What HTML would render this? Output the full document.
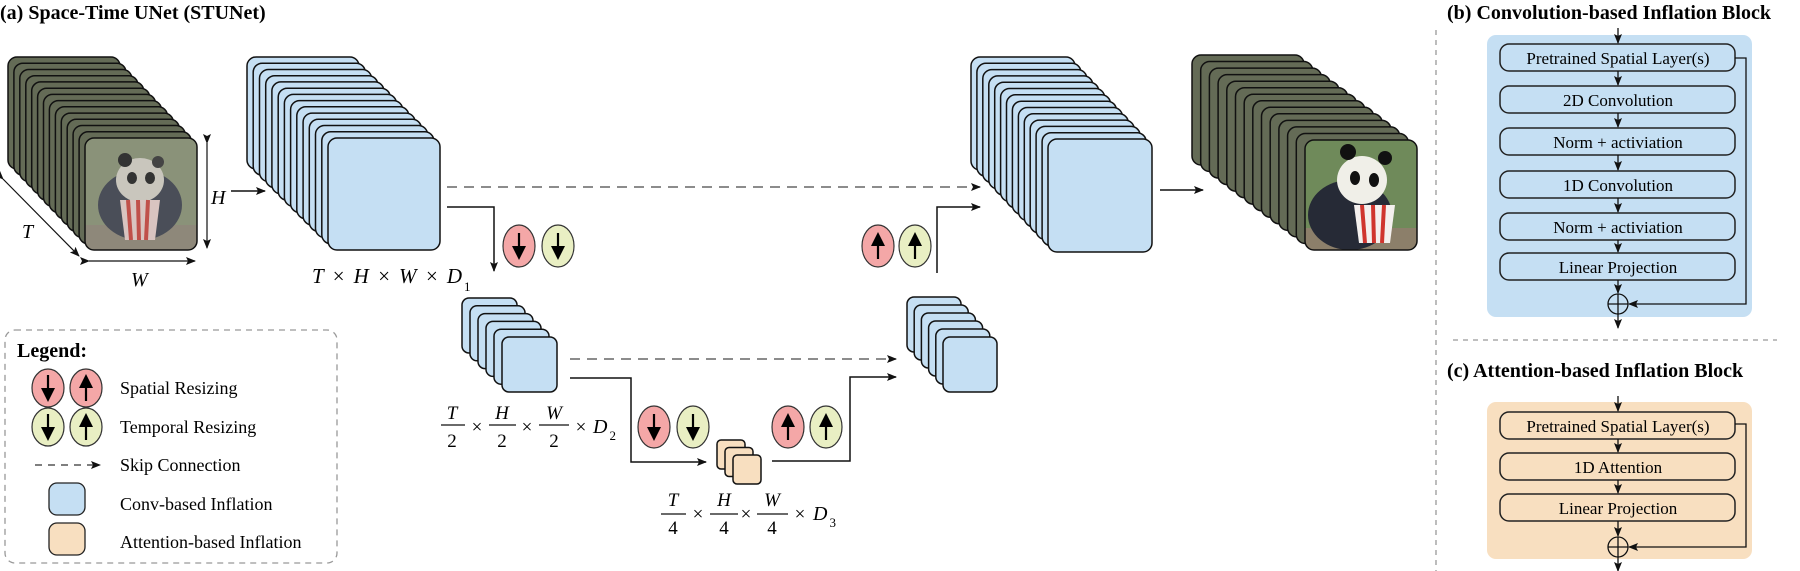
<!DOCTYPE html>
<html><head><meta charset="utf-8"><style>
html,body{margin:0;padding:0;background:#fff;}
svg{display:block;}
.t{font-family:"Liberation Serif",serif;}
.m{font-family:"Liberation Serif",serif;font-style:italic;}
.b rect{fill:#c5dff3;stroke:#111;stroke-width:1.5;}
.o rect{fill:#f8dfc0;stroke:#111;stroke-width:1.5;}
.v rect{fill:#646b56;stroke:#111;stroke-width:1.5;}
.row{fill:none;stroke:#222;stroke-width:1.5;}
</style></head><body>
<svg width="1800" height="571" viewBox="0 0 1800 571" xmlns="http://www.w3.org/2000/svg">
<defs>
<marker id="ah" markerWidth="10" markerHeight="8" refX="9" refY="4" orient="auto" markerUnits="userSpaceOnUse"><path d="M0,0 L10,4 L0,8 L2,4 z" fill="#111"/></marker>
<clipPath id="c1"><rect x="85" y="138" width="112" height="112" rx="9"/></clipPath>
<clipPath id="c2"><rect x="1305" y="140" width="112" height="110" rx="9"/></clipPath>
<g id="dn"><path d="M0,-13 V2" stroke="#000" stroke-width="2.2"/><path d="M-7,0 L7,0 L0,14 z" fill="#000"/></g>
<g id="up"><path d="M0,13 V-2" stroke="#000" stroke-width="2.2"/><path d="M-7,0 L7,0 L0,-14 z" fill="#000"/></g>
</defs>

<text x="0" y="19" class="t" font-size="20" font-weight="bold">(a) Space-Time UNet (STUNet)</text>

<g class="v">
<rect x="8" y="57" width="112" height="112" rx="9"/><rect x="13.9" y="63.2" width="112" height="112" rx="9"/><rect x="19.8" y="69.5" width="112" height="112" rx="9"/><rect x="25.8" y="75.7" width="112" height="112" rx="9"/><rect x="31.7" y="81.9" width="112" height="112" rx="9"/><rect x="37.6" y="88.2" width="112" height="112" rx="9"/><rect x="43.5" y="94.4" width="112" height="112" rx="9"/><rect x="49.4" y="100.6" width="112" height="112" rx="9"/><rect x="55.4" y="106.8" width="112" height="112" rx="9"/><rect x="61.3" y="113.1" width="112" height="112" rx="9"/><rect x="67.2" y="119.3" width="112" height="112" rx="9"/><rect x="73.1" y="125.5" width="112" height="112" rx="9"/><rect x="79.1" y="131.8" width="112" height="112" rx="9"/>
</g>
<g clip-path="url(#c1)">
<rect x="85" y="138" width="112" height="112" fill="#8a9279"/>
<rect x="85" y="225" width="112" height="25" fill="#8e887a"/>
<ellipse cx="140" cy="205" rx="42" ry="35" fill="#4a4e58"/>
<ellipse cx="140" cy="180" rx="24" ry="22" fill="#c9c6bd"/>
<circle cx="125" cy="160" r="7" fill="#333"/><circle cx="158" cy="162" r="6" fill="#444"/>
<ellipse cx="132" cy="178" rx="5" ry="6" fill="#333"/><ellipse cx="150" cy="178" rx="5" ry="6" fill="#333"/>
<path d="M120,200 L160,200 L155,240 L125,240 z" fill="#d9c4c0"/>
<path d="M128,200 L131,240 M138,200 L139,240 M148,200 L146,240" stroke="#c0504a" stroke-width="4"/>
</g>
<rect x="85" y="138" width="112" height="112" rx="9" fill="none" stroke="#111" stroke-width="1.5"/>
<path d="M207,143 V248" stroke="#111" stroke-width="1.2" marker-start="url(#ah)" marker-end="url(#ah)"/>
<text x="211" y="204" class="m" font-size="20">H</text>
<path d="M3,179 L79,256" stroke="#111" stroke-width="1.2" marker-start="url(#ah)" marker-end="url(#ah)"/>
<text x="22" y="238" class="m" font-size="20">T</text>
<path d="M89,261 H195" stroke="#111" stroke-width="1.2" marker-start="url(#ah)" marker-end="url(#ah)"/>
<text x="131" y="286" class="m" font-size="20">W</text>
<path d="M231,191 H265" stroke="#111" stroke-width="1.5" marker-end="url(#ah)"/>

<g class="b">
<rect x="247" y="57" width="112" height="112" rx="9"/><rect x="253.2" y="63.2" width="112" height="112" rx="9"/><rect x="259.5" y="69.5" width="112" height="112" rx="9"/><rect x="265.7" y="75.7" width="112" height="112" rx="9"/><rect x="271.9" y="81.9" width="112" height="112" rx="9"/><rect x="278.2" y="88.2" width="112" height="112" rx="9"/><rect x="284.4" y="94.4" width="112" height="112" rx="9"/><rect x="290.6" y="100.6" width="112" height="112" rx="9"/><rect x="296.8" y="106.8" width="112" height="112" rx="9"/><rect x="303.1" y="113.1" width="112" height="112" rx="9"/><rect x="309.3" y="119.3" width="112" height="112" rx="9"/><rect x="315.5" y="125.5" width="112" height="112" rx="9"/><rect x="321.8" y="131.8" width="112" height="112" rx="9"/><rect x="328" y="138" width="112" height="112" rx="9"/>
</g>
<text x="312" y="283" class="m" font-size="21" textLength="150" lengthAdjust="spacing">T × H × W × D</text>
<text x="464" y="291" class="t" font-size="13">1</text>

<path d="M447,187 H980" stroke="#666" stroke-width="1.5" stroke-dasharray="10,7" fill="none" marker-end="url(#ah)"/>
<path d="M570,359 H896" stroke="#666" stroke-width="1.5" stroke-dasharray="10,7" fill="none" marker-end="url(#ah)"/>

<path d="M447,207 H494 V271" stroke="#111" stroke-width="1.5" fill="none" marker-end="url(#ah)"/>
<ellipse cx="519" cy="246" rx="16" ry="21" fill="#f4a7a7" stroke="#333" stroke-width="1.2"/><use href="#dn" x="519" y="246"/>
<ellipse cx="558" cy="246" rx="16" ry="21" fill="#e9efc3" stroke="#333" stroke-width="1.2"/><use href="#dn" x="558" y="246"/>

<g class="b">
<rect x="462" y="298" width="55" height="55" rx="7"/><rect x="470" y="305.8" width="55" height="55" rx="7"/><rect x="478" y="313.6" width="55" height="55" rx="7"/><rect x="486" y="321.4" width="55" height="55" rx="7"/><rect x="494" y="329.2" width="55" height="55" rx="7"/><rect x="502" y="337" width="55" height="55" rx="7"/>
</g>
<g class="m" font-size="19" text-anchor="middle">
<text x="452" y="419">T</text><text x="502" y="419">H</text><text x="554" y="419">W</text>
</g>
<g class="t" font-size="19" text-anchor="middle">
<text x="452" y="447">2</text><text x="502" y="447">2</text><text x="554" y="447">2</text>
<text x="477" y="433">×</text><text x="527" y="433">×</text><text x="581" y="433">×</text>
</g>
<path d="M441,425 H465 M489,425 H516 M539,425 H569" stroke="#111" stroke-width="1.2"/>
<text x="593" y="433" class="m" font-size="20">D<tspan class="t" font-style="normal" font-size="13" dy="7" dx="2">2</tspan></text>

<path d="M570,378 H631 V462 H706" stroke="#111" stroke-width="1.5" fill="none" marker-end="url(#ah)"/>
<ellipse cx="654" cy="427" rx="16" ry="21" fill="#f4a7a7" stroke="#333" stroke-width="1.2"/><use href="#dn" x="654" y="427"/>
<ellipse cx="693" cy="427" rx="16" ry="21" fill="#e9efc3" stroke="#333" stroke-width="1.2"/><use href="#dn" x="693" y="427"/>
<ellipse cx="788" cy="427" rx="16" ry="21" fill="#f4a7a7" stroke="#333" stroke-width="1.2"/><use href="#up" x="788" y="427"/>
<ellipse cx="826" cy="427" rx="16" ry="21" fill="#e9efc3" stroke="#333" stroke-width="1.2"/><use href="#up" x="826" y="427"/>

<g class="o">
<rect x="717" y="440" width="28" height="29" rx="4"/><rect x="725" y="447.5" width="28" height="29" rx="4"/><rect x="733" y="455" width="28" height="29" rx="4"/>
</g>
<g class="m" font-size="19" text-anchor="middle">
<text x="673" y="506">T</text><text x="724" y="506">H</text><text x="772" y="506">W</text>
</g>
<g class="t" font-size="19" text-anchor="middle">
<text x="673" y="534">4</text><text x="724" y="534">4</text><text x="772" y="534">4</text>
<text x="698" y="520">×</text><text x="746" y="520">×</text><text x="800" y="520">×</text>
</g>
<path d="M661,514 H686 M710,514 H738 M757,514 H788" stroke="#111" stroke-width="1.2"/>
<text x="813" y="520" class="m" font-size="20">D<tspan class="t" font-style="normal" font-size="13" dy="7" dx="2">3</tspan></text>

<path d="M772,461 H850 V377 H896" stroke="#111" stroke-width="1.5" fill="none" marker-end="url(#ah)"/>

<g class="b">
<rect x="907" y="297" width="54" height="55" rx="7"/><rect x="914.2" y="305" width="54" height="55" rx="7"/><rect x="921.4" y="313" width="54" height="55" rx="7"/><rect x="928.6" y="321" width="54" height="55" rx="7"/><rect x="935.8" y="329" width="54" height="55" rx="7"/><rect x="943" y="337" width="54" height="55" rx="7"/>
</g>
<path d="M937,273 V207 H980" stroke="#111" stroke-width="1.5" fill="none" marker-end="url(#ah)"/>
<ellipse cx="878" cy="246" rx="16" ry="21" fill="#f4a7a7" stroke="#333" stroke-width="1.2"/><use href="#up" x="878" y="246"/>
<ellipse cx="915" cy="246" rx="16" ry="21" fill="#e9efc3" stroke="#333" stroke-width="1.2"/><use href="#up" x="915" y="246"/>

<g class="b">
<rect x="971" y="57" width="104" height="113" rx="9"/><rect x="976.9" y="63.3" width="104" height="113" rx="9"/><rect x="982.8" y="69.6" width="104" height="113" rx="9"/><rect x="988.8" y="75.9" width="104" height="113" rx="9"/><rect x="994.7" y="82.2" width="104" height="113" rx="9"/><rect x="1000.6" y="88.5" width="104" height="113" rx="9"/><rect x="1006.5" y="94.8" width="104" height="113" rx="9"/><rect x="1012.4" y="101.2" width="104" height="113" rx="9"/><rect x="1018.4" y="107.5" width="104" height="113" rx="9"/><rect x="1024.3" y="113.8" width="104" height="113" rx="9"/><rect x="1030.2" y="120.1" width="104" height="113" rx="9"/><rect x="1036.1" y="126.4" width="104" height="113" rx="9"/><rect x="1042.1" y="132.7" width="104" height="113" rx="9"/><rect x="1048" y="139" width="104" height="113" rx="9"/>
</g>
<path d="M1160,190 H1203" stroke="#111" stroke-width="1.5" marker-end="url(#ah)"/>

<g class="v">
<rect x="1192" y="55" width="112" height="110" rx="9"/><rect x="1200.7" y="61.5" width="112" height="110" rx="9"/><rect x="1209.4" y="68.1" width="112" height="110" rx="9"/><rect x="1218.1" y="74.6" width="112" height="110" rx="9"/><rect x="1226.8" y="81.2" width="112" height="110" rx="9"/><rect x="1235.5" y="87.7" width="112" height="110" rx="9"/><rect x="1244.2" y="94.2" width="112" height="110" rx="9"/><rect x="1252.8" y="100.8" width="112" height="110" rx="9"/><rect x="1261.5" y="107.3" width="112" height="110" rx="9"/><rect x="1270.2" y="113.8" width="112" height="110" rx="9"/><rect x="1278.9" y="120.4" width="112" height="110" rx="9"/><rect x="1287.6" y="126.9" width="112" height="110" rx="9"/><rect x="1296.3" y="133.5" width="112" height="110" rx="9"/>
</g>
<g clip-path="url(#c2)">
<rect x="1305" y="140" width="112" height="110" fill="#6f8a5a"/>
<rect x="1305" y="228" width="112" height="22" fill="#8c7f6a"/>
<ellipse cx="1350" cy="215" rx="42" ry="35" fill="#262a36"/>
<ellipse cx="1362" cy="180" rx="25" ry="24" fill="#f0efe8"/>
<circle cx="1348" cy="152" r="8" fill="#111"/><circle cx="1385" cy="158" r="7" fill="#111"/>
<ellipse cx="1355" cy="178" rx="5" ry="7" fill="#111"/><ellipse cx="1374" cy="180" rx="5" ry="7" fill="#111"/>
<path d="M1354,205 L1395,205 L1390,243 L1359,243 z" fill="#f4f0ee"/>
<path d="M1362,205 L1365,243 M1373,205 L1374,243 M1384,205 L1382,243" stroke="#d0352e" stroke-width="4"/>
</g>
<rect x="1305" y="140" width="112" height="110" rx="9" fill="none" stroke="#111" stroke-width="1.5"/>

<rect x="5" y="330" width="332" height="233" rx="10" fill="none" stroke="#999" stroke-width="1.3" stroke-dasharray="6,5"/>
<text x="17" y="357" class="t" font-size="20" font-weight="bold">Legend:</text>
<ellipse cx="48" cy="388" rx="16" ry="19" fill="#f4a7a7" stroke="#333" stroke-width="1.2"/><use href="#dn" x="48" y="388"/>
<ellipse cx="86" cy="388" rx="16" ry="19" fill="#f4a7a7" stroke="#333" stroke-width="1.2"/><use href="#up" x="86" y="388"/>
<ellipse cx="48" cy="427" rx="16" ry="19" fill="#e9efc3" stroke="#333" stroke-width="1.2"/><use href="#dn" x="48" y="427"/>
<ellipse cx="86" cy="427" rx="16" ry="19" fill="#e9efc3" stroke="#333" stroke-width="1.2"/><use href="#up" x="86" y="427"/>
<path d="M35,465 H100" stroke="#333" stroke-width="1.3" stroke-dasharray="7,6" marker-end="url(#ah)"/>
<rect x="49" y="483" width="36" height="32" rx="8" fill="#c5dff3" stroke="#222" stroke-width="1.3"/>
<rect x="49" y="523" width="36" height="32" rx="8" fill="#f8dfc0" stroke="#222" stroke-width="1.3"/>
<g class="t" font-size="18">
<text x="120" y="394">Spatial Resizing</text>
<text x="120" y="433">Temporal Resizing</text>
<text x="120" y="471">Skip Connection</text>
<text x="120" y="510">Conv-based Inflation</text>
<text x="120" y="548">Attention-based Inflation</text>
</g>

<path d="M1436,30 V571" stroke="#999" stroke-width="1.3" stroke-dasharray="5,5"/>
<path d="M1453,340 H1777" stroke="#999" stroke-width="1.3" stroke-dasharray="5,5"/>

<text x="1447" y="19" class="t" font-size="20" font-weight="bold">(b) Convolution-based Inflation Block</text>
<rect x="1487" y="35" width="265" height="282" rx="9" fill="#c5dff3"/>
<g class="row">
<rect x="1500" y="44" width="235" height="27" rx="9"/>
<rect x="1500" y="86" width="235" height="27" rx="9"/>
<rect x="1500" y="128" width="235" height="27" rx="9"/>
<rect x="1500" y="171" width="235" height="27" rx="9"/>
<rect x="1500" y="213" width="235" height="27" rx="9"/>
<rect x="1500" y="253" width="235" height="27" rx="9"/>
</g>
<g class="t" font-size="17" text-anchor="middle">
<text x="1618" y="64">Pretrained Spatial Layer(s)</text>
<text x="1618" y="106">2D Convolution</text>
<text x="1618" y="148">Norm + activiation</text>
<text x="1618" y="191">1D Convolution</text>
<text x="1618" y="233">Norm + activiation</text>
<text x="1618" y="273">Linear Projection</text>
</g>
<g stroke="#111" stroke-width="1.3" fill="none">
<path d="M1618,28 V43" marker-end="url(#ah)"/>
<path d="M1618,71 V85" marker-end="url(#ah)"/>
<path d="M1618,113 V127" marker-end="url(#ah)"/>
<path d="M1618,155 V170" marker-end="url(#ah)"/>
<path d="M1618,198 V212" marker-end="url(#ah)"/>
<path d="M1618,240 V252" marker-end="url(#ah)"/>
<path d="M1618,280 V293" marker-end="url(#ah)"/>
<circle cx="1618" cy="304" r="10"/>
<path d="M1608,304 H1628 M1618,294 V314"/>
<path d="M1735,58 H1746 V304 H1629" marker-end="url(#ah)"/>
<path d="M1618,314 V328" marker-end="url(#ah)"/>
</g>

<text x="1447" y="377" class="t" font-size="20" font-weight="bold">(c) Attention-based Inflation Block</text>
<rect x="1487" y="402" width="265" height="157" rx="9" fill="#f8dfc0"/>
<g class="row">
<rect x="1500" y="412" width="235" height="27" rx="9"/>
<rect x="1500" y="453" width="235" height="27" rx="9"/>
<rect x="1500" y="494" width="235" height="27" rx="9"/>
</g>
<g class="t" font-size="17" text-anchor="middle">
<text x="1618" y="432">Pretrained Spatial Layer(s)</text>
<text x="1618" y="473">1D Attention</text>
<text x="1618" y="514">Linear Projection</text>
</g>
<g stroke="#111" stroke-width="1.3" fill="none">
<path d="M1618,396 V411" marker-end="url(#ah)"/>
<path d="M1618,439 V452" marker-end="url(#ah)"/>
<path d="M1618,480 V493" marker-end="url(#ah)"/>
<path d="M1618,521 V536" marker-end="url(#ah)"/>
<circle cx="1618" cy="547" r="10"/>
<path d="M1608,547 H1628 M1618,537 V557"/>
<path d="M1735,424 H1746 V547 H1629" marker-end="url(#ah)"/>
<path d="M1618,557 V571" marker-end="url(#ah)"/>
</g>
</svg>
</body></html>
